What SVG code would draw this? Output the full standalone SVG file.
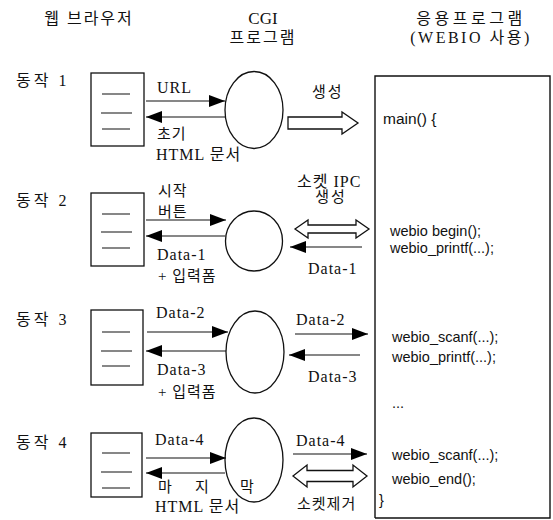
<svg xmlns="http://www.w3.org/2000/svg" width="553" height="520" viewBox="0 0 553 520">
<defs>
<marker id="ah" viewBox="0 0 16 12" refX="16" refY="6" markerWidth="16" markerHeight="12" markerUnits="userSpaceOnUse" orient="auto"><path d="M0,0 L16,6 L0,12 Z" fill="#000"/></marker>
</defs>
<style>
.k{font-family:"Liberation Serif","Noto Sans CJK KR",serif;font-size:15px;fill:#111}
.d{font-family:"Liberation Serif","Noto Sans CJK KR",serif;font-size:16px;letter-spacing:1px;fill:#111}
.h{font-family:"Liberation Serif","Noto Sans CJK KR",serif;font-size:16px;fill:#111}
.c{font-family:"Liberation Sans",Arial,sans-serif;font-size:14.5px;fill:#111}
.box{fill:#fff;stroke:#111;stroke-width:1.3}
.ln{stroke:#111;stroke-width:1.2}
.el{fill:#fff;stroke:#111;stroke-width:1.3}
.ar{stroke:#111;stroke-width:1.2;fill:none;marker-end:url(#ah)}
.ha{fill:#fff;stroke:#111;stroke-width:1.3;stroke-linejoin:miter}
</style>
<rect width="553" height="520" fill="#fff"/>
<g id="headers">
<text class="h" x="89" y="24" text-anchor="middle" style="letter-spacing:2px">웹 브라우저</text>
<text class="h" x="263" y="24" text-anchor="middle" style="font-size:17px">CGI</text>
<text class="h" x="263" y="43" text-anchor="middle" style="letter-spacing:2px">프로그램</text>
<text class="h" x="471" y="24" text-anchor="middle" style="letter-spacing:3.5px">응용프로그램</text>
<text class="h" x="471" y="43" text-anchor="middle" style="letter-spacing:2.5px">(WEBIO 사용)</text>
</g>
<g id="steps">
<text class="h" x="16" y="86" style="letter-spacing:3px">동작 1</text>
<text class="h" x="16" y="206" style="letter-spacing:3px">동작 2</text>
<text class="h" x="16" y="325" style="letter-spacing:3px">동작 3</text>
<text class="h" x="16" y="448" style="letter-spacing:3px">동작 4</text>
</g>
<g id="browser1"><rect class="box" x="91" y="73" width="53" height="73"/><path class="ln" d="M102,94H130M101,113H132M102,129H130"/></g>
<g id="browser2"><rect class="box" x="91" y="193" width="53" height="73"/><path class="ln" d="M102,214H130M101,232H132M102,248H130"/></g>
<g id="browser3"><rect class="box" x="91" y="310" width="52" height="75"/><path class="ln" d="M102,332H130M101,351H132M102,366H130"/></g>
<g id="browser4"><rect class="box" x="91" y="433" width="51" height="64"/><path class="ln" d="M102,453H130M101,472H132M102,488H130"/></g>
<g id="cgi1"><ellipse class="el" cx="254" cy="110" rx="29" ry="38.5"/></g>
<g id="cgi2"><ellipse class="el" cx="254" cy="241" rx="28.5" ry="30"/></g>
<g id="cgi3"><ellipse class="el" cx="255" cy="352" rx="29" ry="41"/></g>
<g id="cgi4"><ellipse class="el" cx="254" cy="460" rx="29" ry="42"/></g>
<g id="app">
<path d="M375,518V76H550V518H375" fill="#fff" stroke="#111" stroke-width="1.4"/>
<text class="c" x="383" y="124" style="font-size:15.5px">main() {</text>
<text class="c" x="390" y="236">webio begin();</text>
<text class="c" x="390" y="253">webio_printf(...);</text>
<text class="c" x="392" y="342">webio_scanf(...);</text>
<text class="c" x="392" y="362">webio_printf(...);</text>
<text class="c" x="392" y="408">...</text>
<text class="c" x="392" y="460">webio_scanf(...);</text>
<text class="c" x="392" y="484">webio_end();</text>
<text class="c" x="379" y="505">}</text>
</g>
<g id="connectors">
<line class="ar" x1="146" y1="101" x2="225" y2="101"/>
<line class="ar" x1="225" y1="117" x2="146" y2="117"/>
<polygon class="ha" points="288,117 342,117 342,112 358,123 342,134 342,129 288,129"/>
<line class="ar" x1="146" y1="220" x2="226" y2="220"/>
<line class="ar" x1="225" y1="236" x2="146" y2="236"/>
<polygon class="ha" points="295,229 308,220 308,225 356,225 356,220 369,229 356,238 356,233 308,233 308,238"/>
<line class="ar" x1="362" y1="247" x2="290" y2="247"/>
<line class="ar" x1="147" y1="332" x2="228" y2="332"/>
<line class="ar" x1="226" y1="351" x2="146" y2="351"/>
<line class="ar" x1="295" y1="334" x2="368" y2="334"/>
<line class="ar" x1="360" y1="355" x2="289" y2="355"/>
<line class="ar" x1="146" y1="458" x2="226" y2="458"/>
<line class="ar" x1="225" y1="473" x2="146" y2="473"/>
<line class="ar" x1="293" y1="454" x2="367" y2="454"/>
<polygon class="ha" points="293,476 307,465 307,470.5 353,470.5 353,465 367,476 353,487 353,481.5 307,481.5 307,487"/>
</g>
<g id="labels">
<text class="d" x="157" y="93">URL</text>
<text class="k" x="157" y="139" style="letter-spacing:1px">초기</text>
<text class="d" x="156" y="160">HTML 문서</text>
<text class="k" x="312" y="97" style="letter-spacing:2px">생성</text>
<text class="k" x="158" y="196" style="letter-spacing:1px">시작</text>
<text class="k" x="158" y="217" style="letter-spacing:1px">버튼</text>
<text class="d" x="157" y="260">Data-1</text>
<text class="k" x="158" y="281" style="letter-spacing:1px">+ 입력폼</text>
<text class="d" x="297" y="187">소켓 IPC</text>
<text class="k" x="331" y="202" text-anchor="middle" style="letter-spacing:2px">생성</text>
<text class="d" x="308" y="274">Data-1</text>
<text class="d" x="156" y="318">Data-2</text>
<text class="d" x="157" y="375">Data-3</text>
<text class="k" x="158" y="397" style="letter-spacing:1px">+ 입력폼</text>
<text class="d" x="296" y="325">Data-2</text>
<text class="d" x="308" y="382">Data-3</text>
<text class="d" x="155" y="445">Data-4</text>
<text class="k" x="158" y="492">마</text>
<text class="k" x="195" y="492">지</text>
<text class="k" x="240" y="492">막</text>
<text class="d" x="155" y="512">HTML 문서</text>
<text class="d" x="296" y="446">Data-4</text>
<text class="k" x="297" y="509" style="letter-spacing:1px">소켓제거</text>
</g>
</svg>
